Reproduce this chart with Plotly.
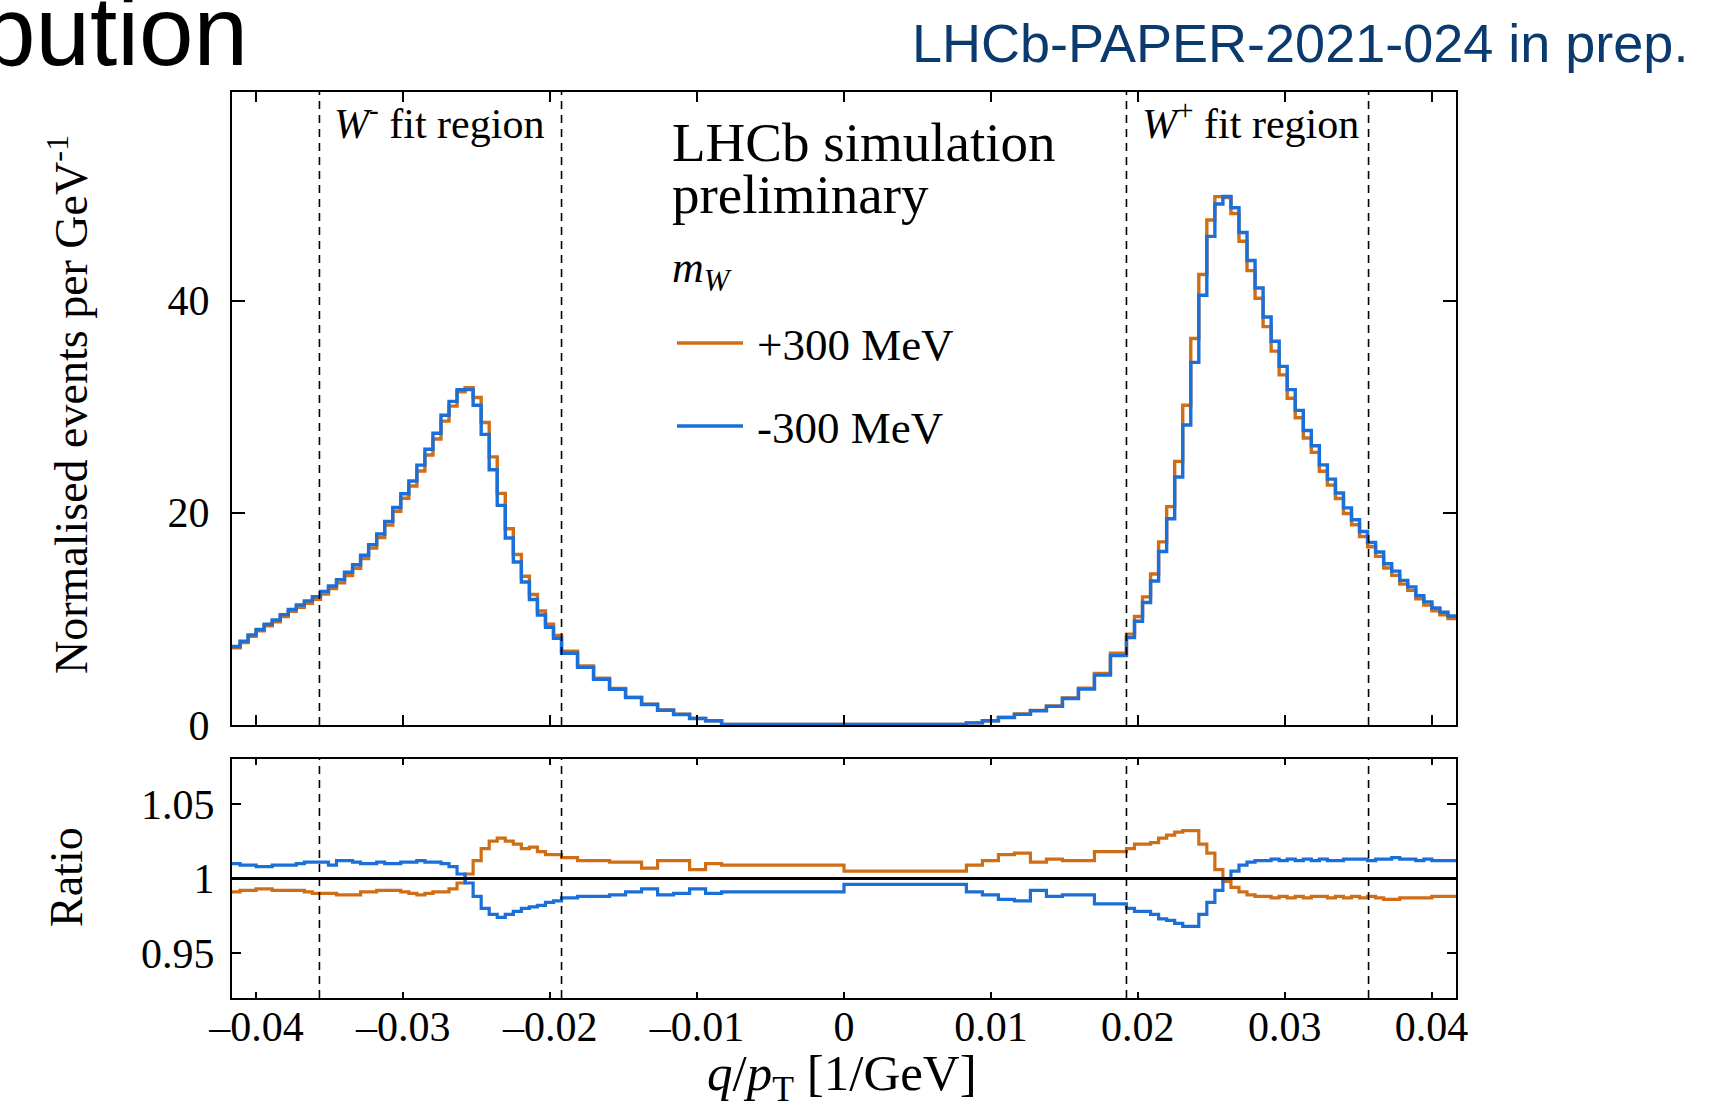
import plotly.graph_objects as go

# ---------------- data ----------------
BIN_EDGES = [
    -0.041667, -0.041119, -0.040572, -0.040025, -0.039478, -0.038931, -0.038383, -0.037836,
    -0.037289, -0.036742, -0.036194, -0.035647, -0.035100, -0.034553, -0.034006, -0.033458,
    -0.032911, -0.032364, -0.031817, -0.031270, -0.030722, -0.030175, -0.029628, -0.029081,
    -0.028534, -0.027986, -0.027439, -0.026892, -0.026345, -0.025797, -0.025250, -0.024703,
    -0.024156, -0.023609, -0.023061, -0.022514, -0.021967, -0.021420, -0.020873, -0.020325,
    -0.019778, -0.019231,
    -0.018141, -0.017051, -0.015962, -0.014872, -0.013782, -0.012692, -0.011603, -0.010513,
    -0.009423, -0.008333,
    0.0,
    0.008333, 0.009423, 0.010513, 0.011603, 0.012692, 0.013782, 0.014872, 0.015962,
    0.017051, 0.018141, 0.019231,
    0.019778, 0.020325, 0.020873, 0.021420, 0.021967, 0.022514, 0.023061, 0.023609,
    0.024156, 0.024703, 0.025250, 0.025797, 0.026345, 0.026892, 0.027439, 0.027986,
    0.028534, 0.029081, 0.029628, 0.030175, 0.030722, 0.031270, 0.031817, 0.032364,
    0.032911, 0.033458, 0.034006, 0.034553, 0.035100, 0.035647, 0.036194, 0.036742,
    0.037289, 0.037836, 0.038383, 0.038931, 0.039478, 0.040025, 0.040572, 0.041119,
    0.041667,
]

# nominal normalised events per GeV^-1, one value per bin
NOMINAL = [
    7.33, 7.83, 8.42, 8.93, 9.42, 9.81, 10.31, 10.80, 11.19, 11.57, 11.97, 12.46, 12.98, 13.54,
    14.23, 14.94, 15.84, 16.83, 17.80, 19.00, 20.30, 21.56, 22.75, 24.20, 25.70, 27.20, 28.90,
    30.26, 31.50, 31.70, 30.50, 27.95, 24.65, 21.25, 18.05, 15.70, 13.75, 12.05, 10.55, 9.35, 8.30,
    6.85, 5.50, 4.35, 3.40, 2.60, 1.95, 1.40, 1.00, 0.62, 0.40,
    0.06, 0.06,
    0.20, 0.40, 0.71, 1.02, 1.36, 1.78, 2.52, 3.42, 4.78, 6.65,
    8.40, 10.00, 11.80, 13.90, 16.80, 20.00, 24.10, 29.20, 35.30, 41.50, 46.80, 49.50, 49.80,
    48.50, 46.00, 43.30, 40.70, 38.00, 35.70, 33.40, 31.20, 29.30, 27.40, 26.00, 24.20, 22.90,
    21.60, 20.20, 19.10, 18.00, 17.00, 16.10, 15.00, 14.30, 13.45, 12.85, 12.05, 11.45, 10.90,
    10.50, 10.15,
]

# ratio to nominal, m_W + 300 MeV
RATIO_PLUS = [
    0.991, 0.992, 0.992, 0.993, 0.993, 0.992, 0.992, 0.992, 0.992, 0.991, 0.990, 0.990, 0.990,
    0.989, 0.989, 0.989, 0.991, 0.991, 0.992, 0.992, 0.992, 0.991, 0.990, 0.989, 0.990, 0.991,
    0.991, 0.993, 0.997, 1.003, 1.012, 1.020, 1.025, 1.027, 1.025, 1.023, 1.020, 1.021, 1.018,
    1.016, 1.016,
    1.014, 1.012, 1.012, 1.011, 1.011, 1.007, 1.012, 1.012, 1.006, 1.010,
    1.009, 1.005,
    1.009, 1.012, 1.016, 1.017, 1.011, 1.013, 1.012, 1.012, 1.018, 1.018,
    1.020, 1.023, 1.023, 1.024, 1.027, 1.029, 1.031, 1.032, 1.032, 1.023, 1.017, 1.006, 0.998,
    0.994, 0.991, 0.989, 0.988, 0.988, 0.987, 0.988, 0.987, 0.988, 0.987, 0.988, 0.988, 0.987,
    0.988, 0.987, 0.988, 0.987, 0.988, 0.987, 0.986, 0.986, 0.987, 0.987, 0.987, 0.987, 0.988,
    0.988, 0.988,
]

# ratio to nominal, m_W - 300 MeV
RATIO_MINUS = [
    1.010, 1.009, 1.009, 1.008, 1.008, 1.009, 1.009, 1.009, 1.010, 1.011, 1.011, 1.011, 1.009,
    1.012, 1.012, 1.011, 1.010, 1.010, 1.011, 1.010, 1.010, 1.011, 1.011, 1.012, 1.011, 1.011,
    1.010, 1.008, 1.003, 0.997, 0.988, 0.980, 0.976, 0.974, 0.976, 0.978, 0.980, 0.981, 0.982,
    0.984, 0.985,
    0.987, 0.988, 0.988, 0.989, 0.991, 0.993, 0.989, 0.990, 0.993, 0.990,
    0.991, 0.996,
    0.991, 0.989, 0.986, 0.985, 0.992, 0.988, 0.989, 0.989, 0.983, 0.983,
    0.980, 0.978, 0.978, 0.976, 0.973, 0.972, 0.970, 0.968, 0.968, 0.976, 0.984, 0.992, 1.000,
    1.005, 1.009, 1.011, 1.012, 1.012, 1.013, 1.012, 1.013, 1.012, 1.013, 1.012, 1.013, 1.012,
    1.012, 1.013, 1.013, 1.013, 1.012, 1.013, 1.013, 1.014, 1.013, 1.013, 1.012, 1.013, 1.012,
    1.012, 1.012,
]

SERIES_NAMES = ["+300 MeV", "-300 MeV"]
FIT_REGION_EDGES = [-0.035714, -0.019231, 0.019231, 0.035714]
X_TICKS = [-0.04, -0.03, -0.02, -0.01, 0.0, 0.01, 0.02, 0.03, 0.04]
X_TICK_TEXT = ["\u20130.04", "\u20130.03", "\u20130.02", "\u20130.01", "0", "0.01", "0.02", "0.03", "0.04"]
Y_TICKS = [0, 20, 40]
RATIO_TICKS = [0.95, 1.0, 1.05]
RATIO_TICK_TEXT = ["0.95", "1", "1.05"]
X_RANGE = [-0.041667, 0.041667]
Y_RANGE = [0, 59.7]
RATIO_RANGE = [0.92, 1.08]

# ---------------- styling ----------------
W, H = 1731, 1112
ML, MR = 232, 275
PW = W - ML - MR
ORANGE = "#d06e17"
BLUE = "#1a6fd8"
SERIF = "Liberation Serif"
SANS = "Liberation Sans"


def px(x):
    return (x - ML) / PW


def py(y):
    return 1 - y / H


plus_vals = [n * r for n, r in zip(NOMINAL, RATIO_PLUS)]
minus_vals = [n * r for n, r in zip(NOMINAL, RATIO_MINUS)]


def step(vals):
    return list(vals) + [vals[-1]]


fig = go.Figure()
for vals, col, name in [(plus_vals, ORANGE, SERIES_NAMES[0]), (minus_vals, BLUE, SERIES_NAMES[1])]:
    fig.add_trace(go.Scatter(x=BIN_EDGES, y=step(vals), mode="lines", line=dict(shape="hv", color=col, width=3.4),
                             name=name, showlegend=False, xaxis="x", yaxis="y"))
for vals, col, name in [(RATIO_PLUS, ORANGE, SERIES_NAMES[0]), (RATIO_MINUS, BLUE, SERIES_NAMES[1])]:
    fig.add_trace(go.Scatter(x=BIN_EDGES, y=step(vals), mode="lines", line=dict(shape="hv", color=col, width=3.2),
                             name=name, showlegend=False, xaxis="x2", yaxis="y2"))

axis_common = dict(showline=True, linecolor="black", linewidth=2.2, mirror="ticks", ticks="inside",
                   tickcolor="black", tickwidth=2, showgrid=False, zeroline=False,
                   tickfont=dict(family=SERIF, size=42, color="black"))

fig.update_layout(
    width=W, height=H,
    margin=dict(l=ML, r=MR, t=0, b=0, autoexpand=False),
    paper_bgcolor="white", plot_bgcolor="white",
    xaxis=dict(**axis_common, range=X_RANGE, tickvals=X_TICKS, showticklabels=False, ticklen=10,
               anchor="y", domain=[0, 1]),
    yaxis=dict(**axis_common, range=Y_RANGE, tickvals=Y_TICKS, ticklen=13, ticklabelstandoff=12,
               domain=[py(725), py(91.5)], anchor="x"),
    xaxis2=dict(**axis_common, range=X_RANGE, tickvals=X_TICKS, ticktext=X_TICK_TEXT, ticklen=6,
                ticklabelstandoff=-10, anchor="y2", matches="x", domain=[0, 1]),
    yaxis2=dict(**axis_common, range=RATIO_RANGE, tickvals=RATIO_TICKS, ticktext=RATIO_TICK_TEXT,
                ticklen=9, ticklabelstandoff=7, domain=[py(998), py(759)], anchor="x2"),
)

shapes = []
for xe in FIT_REGION_EDGES:
    for yr in ["y domain", "y2 domain"]:
        shapes.append(dict(type="line", xref="x" if yr.startswith("y ") else "x2", yref=yr, x0=xe, x1=xe,
                           y0=0, y1=1, line=dict(color="black", width=1.6, dash="8px,6px")))
shapes.append(dict(type="line", xref="x2 domain", yref="y2", x0=0, x1=1, y0=1, y1=1,
                   line=dict(color="black", width=3)))
# legend line samples
shapes.append(dict(type="line", xref="paper", yref="paper", x0=px(677), x1=px(743), y0=py(343), y1=py(343),
                   line=dict(color=ORANGE, width=3.4)))
shapes.append(dict(type="line", xref="paper", yref="paper", x0=px(677), x1=px(743), y0=py(426), y1=py(426),
                   line=dict(color=BLUE, width=3.4)))
fig.update_layout(shapes=shapes)


def ann(text, x, y, size, family=SERIF, xanchor="left", yanchor="middle", color="black", angle=0):
    return dict(text=text, x=px(x), y=py(y), xref="paper", yref="paper", showarrow=False,
                xanchor=xanchor, yanchor=yanchor, textangle=angle,
                font=dict(family=family, size=size, color=color))


annotations = [
    ann("bution", 250, 31, 98, family=SANS, xanchor="right"),
    ann("LHCb-PAPER-2021-024 in prep.", 1690, 43, 54, family=SANS, xanchor="right", color="#0a3a6e"),
    ann("<i>W</i><sup>-</sup> fit region", 332, 120, 42),
    ann("<i>W</i><sup>+</sup> fit region", 1140, 120, 42),
    ann("LHCb simulation", 670, 143, 55),
    ann("preliminary", 670, 194, 55),
    ann("<i>m</i><sub><i>W</i></sub>", 670, 270, 44),
    ann(SERIES_NAMES[0], 755, 345, 45),
    ann(SERIES_NAMES[1], 755, 428, 45),
    ann("Normalised events per GeV<sup>-1</sup>", 68, 405, 46, xanchor="center", angle=-90),
    ann("Ratio", 66, 877, 46, xanchor="center", angle=-90),
    ann("<i>q</i>/<i>p</i><sub>T</sub> [1/GeV]", 842, 1077, 51, xanchor="center"),
]
fig.update_layout(annotations=annotations)

fig.write_html("out.html")
